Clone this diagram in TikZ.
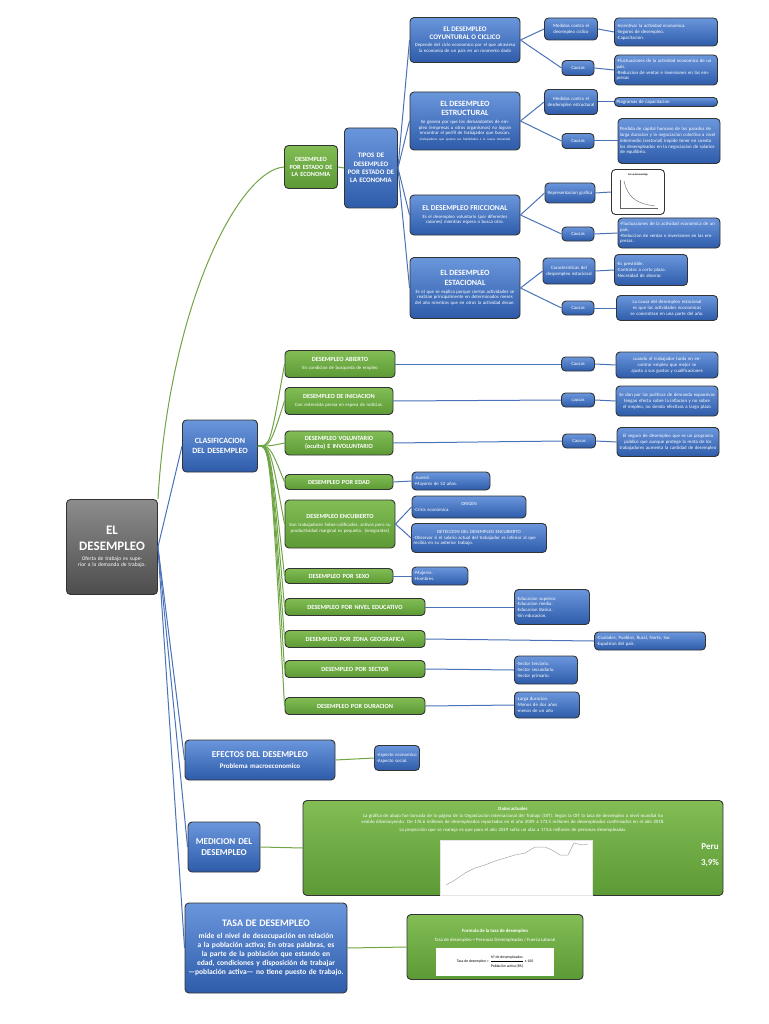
\documentclass[tikz,border=0pt]{standalone}
\usepackage{fontspec}
\setmainfont{Carlito}
\usetikzlibrary{positioning}
\definecolor{bt}{HTML}{6A96DC}\definecolor{bb}{HTML}{2E5CAA}
\definecolor{gt}{HTML}{82BD55}\definecolor{gb}{HTML}{5C9A35}
\definecolor{bl}{HTML}{4A72B8}\definecolor{gl}{HTML}{6FA544}
\newcommand\fs[1]{\fontsize{#1pt}{\dimexpr #1pt*6/5\relax}\selectfont}
\newcommand\sm{\fs{4.8}}
\tikzset{
 base/.style={draw=black!80,line width=0.9pt,rounded corners=4pt,text=white,align=center,inner sep=1pt},
 blu/.style={base,top color=bt,bottom color=bb},
 grn/.style={base,top color=gt,bottom color=gb},
 gry/.style={base,top color=black!45,bottom color=black!70},
 sz/.style n args={3}{minimum width=#1pt,text width={\dimexpr #1pt-4pt\relax},minimum height=#2pt,font=#3},
 bline/.style={draw=bl,line width=1pt},
 gline/.style={draw=gl,line width=1pt},
}
\begin{document}
\begin{tikzpicture}[x=1pt,y=-1pt]
\useasboundingbox (0,0) rectangle (768,1024);
% root
\node[gry,sz={91}{95}{\fs{5.5}}] (root) at (112,547) {{\fs{13}\bfseries EL\\ DESEMPLEO\par}\vspace{3pt} Oferta de trabajo es superior a la demanda de trabajo.};
% estado branch
\node[grn,sz={53}{43}{\fs{6.3}\bfseries}] (est) at (311,167) {DESEMPLEO POR ESTADO DE LA ECONOMIA};
\node[blu,sz={53}{80}{\fs{6.8}\bfseries}] (tip) at (371,168) {TIPOS DE DESEMPLEO POR ESTADO DE LA ECONOMIA};
\node[blu,sz={110}{45}{\sm}] (coy) at (465,40) {{\fs{7}\bfseries EL DESEMPLEO\\ COYUNTURAL O CICLICO\par}\vspace{1pt} Depende del ciclo economico por el que atraviesa la economia de un pais en un momento dado};
\node[blu,sz={110}{58}{\sm}] (estr) at (465,121) {{\fs{8}\bfseries EL DESEMPLEO\\ ESTRUCTURAL\par}\vspace{2pt} Se genera por que los demandantes de empleo (empresas u otros organismos) no logran encontrar el perfil de trabajador que buscan. {\fs{3.3}(trabajadores que ajustan sus habilidades a la nueva demanda)}};
\node[blu,sz={110}{40}{\sm}] (fri) at (465,215) {{\fs{7.5}\bfseries EL DESEMPLEO FRICCIONAL\par}\vspace{2pt} Es el desempleo voluntario (por diferentes razones) mientras espera o busca otro.};
\node[blu,sz={110}{61}{\sm}] (esta) at (465,288) {{\fs{8}\bfseries EL DESEMPLEO\\ ESTACIONAL\par}\vspace{2pt} Es el que se explica porque ciertas actividades se realizan principalmente en determinados meses del año mientras que en otros la actividad decae.};
\node[blu,sz={53}{22}{\sm}] (m1) at (571,29) {Medidas contra el desempleo ciclico};
\node[blu,sz={103}{28}{\sm},align=left] (m1r) at (666,32) {-Incentivar la actividad economica.\\-Seguros de desempleo.\\-Capacitacion.};
\node[blu,sz={32}{15}{\sm}] (c1) at (578,68) {Causas};
\node[blu,sz={103}{30}{\sm},align=left] (c1r) at (666,70) {-Fluctuaciones de la actividad economica de un pais.\\-Reduccion de ventas e inversiones en las empresas};
\node[blu,sz={53}{25}{\sm}] (m2) at (571,102) {Medidas contra el desdempleo estructural};
\node[blu,sz={103}{9}{\sm},align=left] (m2r) at (666,102) {Programas de capacitacion};
\node[blu,sz={32}{15}{\sm}] (c2) at (578,141) {Causas};
\node[blu,sz={102}{45}{\sm},align=left] (c2r) at (669,141) {Perdida de capital humano de los parados de larga duracion y la negociacion colectiva a nivel intermedio (sectorial) impide tener en cuenta los desempleados en la negociacion de salarios de equilibrio.};
\node[blu,sz={50}{20}{\sm}] (rg) at (570,193) {Representacion grafica};
\node[draw=black!80,line width=0.9pt,rounded corners=4pt,fill=white,minimum width=53pt,minimum height=45pt] (gr) at (638,192) {};
\node[font=\fs{2.5}\bfseries] at (638,175) {Curva de beveridge};
\draw[black!60,line width=0.3pt] (620,180)--(620,208)--(658,208);
\draw[black!60,line width=0.4pt] (624,181) .. controls (628,200) and (640,204) .. (655,206);
\node[blu,sz={32}{14}{\sm}] (c3) at (578,234) {Causas};
\node[blu,sz={102}{30}{\sm},align=left] (c3r) at (669,233) {-Fluctuaciones de la actividad economica de un pais.\\-Reduccion de ventas e inversiones en las empresas.};
\node[blu,sz={52}{26}{\sm}] (ca) at (569,271) {Caracteristicas del despempleo estacional};
\node[blu,sz={73}{31}{\sm},align=left] (car) at (651,270) {-Es previsible.\\-Contratos a corto plazo.\\-Necesidad de ahorrar.};
\node[blu,sz={32}{14}{\sm}] (c4) at (578,308) {Causas};
\node[blu,sz={101}{25}{\sm}] (c4r) at (667,308) {La causa del desempleo estacional es que las actividades economicas se concentran en una parte del año.};
% clasificacion
\node[blu,sz={75}{52}{\fs{8}\bfseries}] (cla) at (220,446) {CLASIFICACION DEL DESEMPLEO};
\node[grn,sz={110}{27}{\sm}] (ab) at (340,364) {{\fs{6.3}\bfseries DESEMPLEO ABIERTO\par}\vspace{2pt} En condicion de busqueda de empleo};
\node[grn,sz={108}{27}{\sm}] (ini) at (339,401) {{\fs{6.3}\bfseries DESEMPLEO DE INICIACION\par}\vspace{2pt} Con entrevista previa en espera de noticias.};
\node[grn,sz={108}{24}{\fs{6.3}\bfseries}] (vol) at (339,443) {DESEMPLEO VOLUNTARIO (oculto) E INVOLUNTARIO};
\node[grn,sz={108}{15}{\fs{6.3}\bfseries}] (eda) at (339,482) {DESEMPLEO POR EDAD};
\node[grn,sz={110}{48}{\sm}] (enc) at (340,524) {{\fs{6.3}\bfseries DESEMPLEO ENCUBIERTO\par}\vspace{2pt} Son trabajadores Sobre-calificados, activos pero su productividad marginal es pequeña. (emigrantes)};
\node[grn,sz={108}{15}{\fs{6.3}\bfseries}] (sex) at (339,576) {DESEMPLEO POR SEXO};
\node[grn,sz={140}{17}{\fs{6.3}\bfseries}] (niv) at (355,607) {DESEMPLEO POR NIVEL EDUCATIVO};
\node[grn,sz={140}{17}{\fs{6.3}\bfseries}] (zon) at (355,639) {DESEMPLEO POR ZONA GEOGRAFICA};
\node[grn,sz={140}{17}{\fs{6.3}\bfseries}] (sec) at (355,669) {DESEMPLEO POR SECTOR};
\node[grn,sz={140}{17}{\fs{6.3}\bfseries}] (dur) at (355,706) {DESEMPLEO POR DURACION};
\node[blu,sz={33}{14}{\sm}] (ca1) at (578,364) {Causas};
\node[blu,sz={102}{26}{\sm}] (ca1r) at (667,365) {cuando el trabajador tarda en encontrar empleo que mejor se ajusta a sus gustos y cualificaciones};
\node[blu,sz={33}{14}{\sm}] (ca2) at (578,400) {causas};
\node[blu,sz={102}{30}{\sm}] (ca2r) at (667,401) {Se dan por las politicas de demanda expansivas tengan efecto sobre la inflacion y no sobre el empleo, no siendo efectivas a largo plazo};
\node[blu,sz={33}{14}{\sm}] (ca3) at (579,441) {Causas};
\node[blu,sz={102}{29}{\sm}] (ca3r) at (668,442) {El seguro de desempleo que es un programa público que aunque protege la renta de los trabajadores aumenta la cantidad de desempleo};
\node[blu,sz={78}{18}{\sm},align=left] (edr) at (451,481) {-Juvenil.\\-Mayores de 52 años.};
\node[blu,sz={114}{22}{\sm},align=left] (ori) at (469,507) {\centering ORIGEN\\ -Crisis económica.};
\node[blu,sz={135}{29}{\sm},align=left] (det) at (479,538) {\centering DETECCION DEL DESEMPLEO ENCUBIERTO\\ -Observar si el salario actual del trabajador es inferior al que recibia en su anterior trabajo.};
\node[blu,sz={56}{18}{\sm},align=left] (sxr) at (440,576) {-Mujeres.\\-Hombres.};
\node[blu,sz={75}{35}{\sm},align=left] (nvr) at (552,607) {-Educacion superior.\\-Educacion media.\\-Educacion Basica.\\-Sin educacion.};
\node[blu,sz={111}{18}{\sm},align=left] (zor) at (650,641) {-Ciudades, Pueblos, Rural, Norte, Sur.\\-Expulsion del pais.};
\node[blu,sz={63}{28}{\sm},align=left] (ser) at (546,670) {-Sector terciario.\\-Sector secundario.\\-Sector primario.};
\node[blu,sz={65}{26}{\sm},align=left] (dur2) at (547,705) {-Larga duracion.\\-Menos de dos años\\-menos de un año};
% efectos, medicion, tasa
\node[blu,sz={150}{40}{\fs{7}\bfseries}] (efe) at (260,760) {{\fs{9}EFECTOS DEL DESEMPLEO\par}\vspace{2pt} Problema macroeconomico};
\node[blu,sz={45}{25}{\sm},align=left] (efr) at (397,758) {-Aspecto economico\\-Aspecto social.};
\node[blu,sz={72}{50}{\fs{9}\bfseries}] (med) at (224,847) {MEDICION DEL DESEMPLEO};
\node[grn,minimum width=420pt,minimum height=95pt] (dat) at (513,848) {};
\node[text=white,font=\fs{4.8}\bfseries] at (513,809) {Datos actuales};
\node[text=white,font=\sm,align=center,text width=414pt] at (513,823) {La gráfica de abajo fue tomada de la página de la Organización Internacional del Trabajo (OIT). Según la OIT la tasa de desempleo a nivel mundial ha venido disminuyendo. De 176.6 millones de desempleados reportados en el año 2009 a 172.5 millones de desempleados confirmados en el año 2018.\\[2pt] La proyección que se maneja es que para el año 2019 sufra un alza a 173.6 millones de personas desempleadas.};
\node[text=white,font=\fs{9}\bfseries,align=center] at (710,855) {Peru\\[5pt]3,9\%};
\node[draw=black!10,fill=white,minimum width=152pt,minimum height=55pt] (chart) at (516,868) {};
\draw[gray!70,line width=0.5pt] (446,885) -- (455,880) -- (465,873) -- (475,868) -- (485,865) -- (495,861) -- (505,858) -- (515,855) -- (525,853) -- (535,847) -- (545,847) -- (552,850) -- (560,855) -- (568,855) -- (574,843) -- (582,845) -- (588,844);
\node[blu,sz={162}{90}{\fs{7.5}\bfseries}] (tas) at (266,948) {{\fs{10}TASA DE DESEMPLEO\par}\vspace{3pt} mide el nivel de desocupación en relación a la población activa; En otras palabras, es la parte de la población que estando en edad, condiciones y disposición de trabajar —población activa— no tiene puesto de trabajo.};
\node[grn,minimum width=176pt,minimum height=65pt] (for) at (495,947) {};
\node[text=white,font=\fs{4.8}\bfseries] at (495,931) {Formula de la tasa de desempleo};
\node[text=white,font=\sm] at (495,940) {Tasa de desempleo = Personas Desempleadas / Fuerza Laboral};
\node[fill=white,minimum width=118pt,minimum height=28pt,font=\fs{3.8},inner sep=0pt] at (495,962) {Tasa de desempleo = $\displaystyle\frac{\mbox{N° de desempleados}}{\mbox{Población activa (PA)}}$ x 100};
% connectors
\draw[gline] (root.north east) .. controls (170,300) and (240,170) .. (est.west);
\draw[gline] (est.east) -- (tip.west);
\foreach \n in {coy,estr,fri,esta} \draw[bline] (tip.east) -- (\n.west);
\draw[bline] (coy.east) -- (m1.west); \draw[bline] (coy.east) -- (c1.west);
\draw[bline] (estr.east) -- (m2.west); \draw[bline] (estr.east) -- (c2.west);
\draw[bline] (fri.east) -- (rg.west); \draw[bline] (fri.east) -- (c3.west);
\draw[bline] (esta.east) -- (ca.west); \draw[bline] (esta.east) -- (c4.west);
\draw[bline] (m1.east) -- (m1r.west); \draw[bline] (c1.east) -- (c1r.west);
\draw[bline] (m2.east) -- (m2r.west); \draw[bline] (c2.east) -- (c2r.west);
\draw[bline] (rg.east) -- (gr.west); \draw[bline] (c3.east) -- (c3r.west);
\draw[bline] (ca.east) -- (car.west); \draw[bline] (c4.east) -- (c4r.west);
\draw[bline] (root.east) -- (cla.west);
\foreach \n in {ab,ini,vol,eda,enc,sex,niv,zon,sec,dur} \draw[gline] (cla.east) .. controls (270,446) .. (\n.west);
\draw[bline] (ab.east) -- (ca1.west); \draw[bline] (ca1.east) -- (ca1r.west);
\draw[bline] (ini.east) -- (ca2.west); \draw[bline] (ca2.east) -- (ca2r.west);
\draw[bline] (vol.east) -- (ca3.west); \draw[bline] (ca3.east) -- (ca3r.west);
\draw[bline] (eda.east) -- (edr.west);
\draw[bline] (enc.east) -- (ori.west); \draw[bline] (enc.east) -- (det.west);
\draw[bline] (sex.east) -- (sxr.west);
\draw[bline] (niv.east) -- (nvr.west);
\draw[bline] (zon.east) -- (zor.west);
\draw[bline] (sec.east) -- (ser.west);
\draw[bline] (dur.east) -- (dur2.west);
\draw[bline] (root.east) -- (efe.west);
\draw[bline] (root.east) -- (med.west);
\draw[bline] (root.east) -- (tas.west);
\draw[gline] (efe.east) -- (efr.west);
\draw[gline] (med.east) -- (dat.west);
\draw[gline] (tas.east) -- (for.west);
\end{tikzpicture}
\end{document}
